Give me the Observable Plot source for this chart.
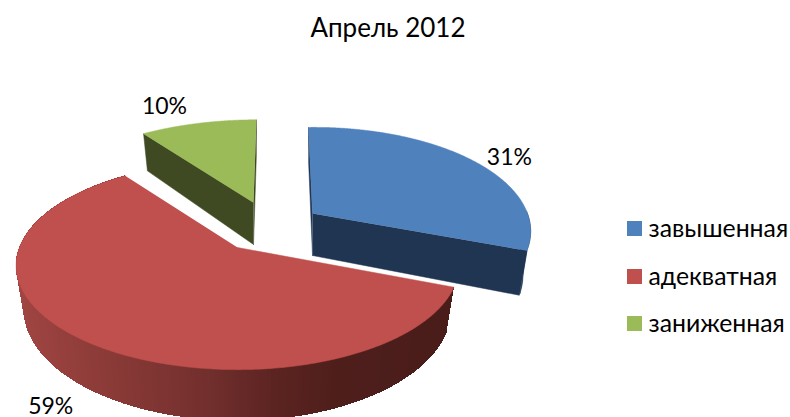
<!DOCTYPE html>
<html><head><meta charset="utf-8">
<script src="https://cdn.jsdelivr.net/npm/d3@7"></script>
<script src="https://cdn.jsdelivr.net/npm/@observablehq/plot@0.6"></script>
<style>
html,body{margin:0;padding:0;background:#fff}
#title{height:50px;box-sizing:border-box;padding-top:9px;text-align:center;font:26px/36px Lato,sans-serif;color:#000;width:776px}
svg{display:block}
</style></head><body>
<div id="title"></div>
<div id="chart"></div>
<script>
const chartTitle = "Апрель 2012";
const categories = ["завышенная","адекватная","заниженная"];
const values = [31,59,10];
const topColors = ["#4f81bd","#c0504d","#9bbb59"];
const wallColors = ["#1f3552","#4a1d1a","#3f4a22"];

document.getElementById("title").textContent = chartTitle;

// projected 3D pie geometry
const centers = [[312,213],[237,247],[253,202]];
const labelNudge = [[38,-2],[-32,67],[-34,-17]];
const rx=[214,218,218], ry=[101,101,97], shear=[-.012,0,0], vanish=[285,237,273];
const k=0.173, depth=42, botX=.965, botY=1.07;
const rad = p => p/100*2*Math.PI;
function pt(i,t,bottom){
  const [cx,cy]=centers[i];
  const u=Math.sin(t), v=Math.cos(t), w=1/(1+k*v);
  const dx=rx[i]*u*w+(vanish[i]-cx)*(1-w), dy=-ry[i]*v*w+shear[i]*rx[i]*u*w;
  return bottom ? {x:cx+dx*botX,y:cy+depth+dy*botY} : {x:cx+dx,y:cy+dy};
}
const apex=(i,bottom)=> bottom?{x:centers[i][0],y:centers[i][1]+depth}:{x:centers[i][0],y:centers[i][1]};
const redShade=d3.scaleLinear().domain([15,100,200,280,340,455])
  .range(["#a04542","#8c3b38","#74302e","#5a2320","#4e1e1b","#4a1d1a"]);

let cum=0; const slices=values.map((v,i)=>{const s=cum;cum+=v;return {i,a0:rad(s),a1:rad(cum)}});
const fractions=d3.range(0,241).map(j=>j/240);

const tops=[], walls=[], shaded=[];
for(const {i,a0,a1} of slices){
  const arc=fractions.map(f=>a0+(a1-a0)*f);
  const topPoly=[apex(i),...arc.map(t=>pt(i,t))];
  topPoly.forEach(p=>tops.push({...p,z:"t"+i,c:topColors[i],o:i==1?2:i==0?1:0}));
  if(i===1){
    // outer red wall, one thin band per step
    for(let j=0;j<arc.length-1;j++){
      const a=arc[j],b=arc[j+1];
      const q=[pt(i,a),pt(i,b),pt(i,b,true),pt(i,a,true)];
      const col=redShade((q[0].x+q[1].x)/2);
      q.forEach(p=>shaded.push({...p,z:"w"+j,c:col}));
    }
  } else {
    // inner cut faces and a short rim, in the slice's dark colour
    const cutA = i===0 ? a1 : a0;
    const cutB = i===0 ? a0 : a1;
    const polys=[[apex(i),pt(i,cutA),pt(i,cutA,true),apex(i,true)],
                 [apex(i),pt(i,cutB),pt(i,cutB,true),apex(i,true)]];
    if(i===0){
      const rim=d3.range(90,112).map(d=>d*Math.PI/180);
      polys.push([...rim.map(t=>pt(i,t)),...rim.slice().reverse().map(t=>pt(i,t,true))]);
    }
    polys.forEach((poly,n)=>poly.forEach(p=>walls.push({...p,z:"c"+i+n,c:wallColors[i],o:i==0?1:0})));
  }
}
const labels=slices.map(({i,a0,a1})=>{
  const p=pt(i,(a0+a1)/2);
  return {x:p.x+labelNudge[i][0],y:p.y+labelNudge[i][1],t:values[i]+"%"};
});
const legendRows=[228.5,276.5,323.5];
const legend=categories.map((c,i)=>({c,col:topColors[i],y:legendRows[i]}));

const poly=(d,sw,extra={})=>Plot.line(d,{x:"x",y:"y",z:"z",fill:"c",stroke:"c",strokeWidth:sw,curve:"linear",...extra});
const byO=(arr,o)=>arr.filter(d=>d.o===o);

const plot=Plot.plot({
  width:790,height:367,margin:0,
  x:{domain:[0,790],range:[0,790],axis:null},
  y:{domain:[50,417],range:[0,367],axis:null},
  color:{type:"identity"},
  style:{background:"#fff"},
  marks:[
    poly(byO(walls,0),.5), poly(byO(tops,0),.5),
    poly(byO(walls,1),.5), poly(byO(tops,1),.5),
    poly(shaded,1,{shapeRendering:"crispEdges"}), poly(byO(tops,2),.5),
    Plot.text(labels,{x:"x",y:"y",text:"t",fontSize:23,fontFamily:"Lato, sans-serif",fill:"#000"}),
    Plot.rect(legend,{x1:()=>627,x2:()=>642,y1:d=>d.y-7.5,y2:d=>d.y+7.5,fill:"col"}),
    Plot.text(legend,{x:()=>648,y:"y",text:"c",textAnchor:"start",fontSize:24.8,fontFamily:"Lato, sans-serif",fill:"#000"})
  ]
});
document.getElementById("chart").appendChild(plot);
</script>
</body></html>
